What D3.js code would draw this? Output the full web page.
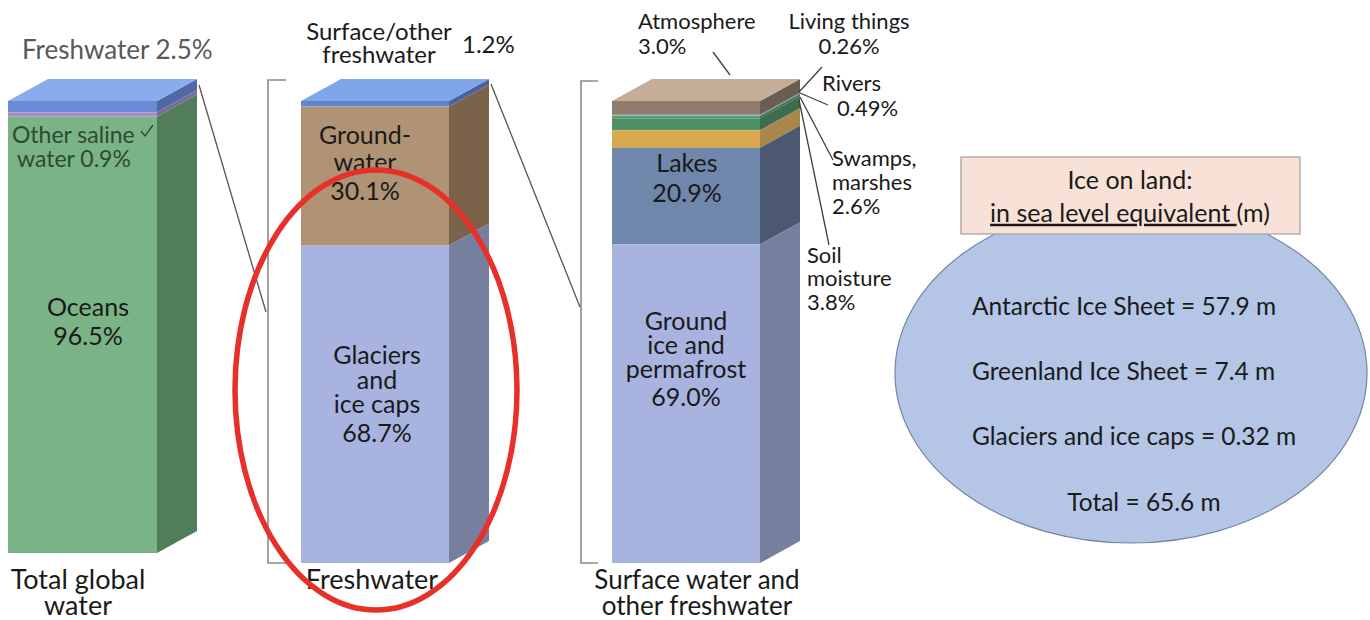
<!DOCTYPE html>
<html><head><meta charset="utf-8">
<script src="https://cdn.jsdelivr.net/npm/d3@7"></script>
<style>
body{margin:0;background:#fff;}
text{font-family:Lato,"Open Sans",sans-serif;}
</style>
</head><body>
<svg id="chart" width="1370" height="620"></svg>
<script>
// ---------- DATA ----------
const totalCategories = ["Freshwater", "Other saline water", "Oceans"];
const totalValues = [2.5, 0.9, 96.5];
const freshCategories = ["Surface/other freshwater", "Groundwater", "Glaciers and ice caps"];
const freshValues = [1.2, 30.1, 68.7];
const surfaceCategories = ["Atmosphere", "Living things", "Rivers", "Swamps, marshes", "Soil moisture", "Lakes", "Ground ice and permafrost"];
const surfaceValues = [3.0, 0.26, 0.49, 2.6, 3.8, 20.9, 69.0];
const barTitles = [["Total global", "water"], ["Freshwater"], ["Surface water and", "other freshwater"]];
const iceCategories = ["Antarctic Ice Sheet", "Greenland Ice Sheet", "Glaciers and ice caps", "Total"];
const iceValues = [57.9, 7.4, 0.32, 65.6];

// ---------- STYLE ----------
const totalColors = [
  {front:"#6a8bd5", side:"#4f68a8", top:"#8aaced"},
  {front:"#a98ac6", side:"#7e6a98"},
  {front:"#7ab386", side:"#527d5a"}
];
const freshColors = [
  {front:"#5f83cf", side:"#4a62a0", top:"#80a6ea"},
  {front:"#b09274", side:"#7a624b"},
  {front:"#a8b3e0", side:"#777f9f"}
];
const surfaceColors = [
  {front:"#8f7c6e", side:"#6c5d52", top:"#c4ae98"},
  {front:"#8cc6c0", side:"#6a9590"},
  {front:"#5a9a70", side:"#436f52"},
  {front:"#4f8f66", side:"#3d6c4e"},
  {front:"#d9a84e", side:"#a8884a"},
  {front:"#6f87aa", side:"#4b586f"},
  {front:"#a8b3e0", side:"#777f9f"}
];

const fmt = v => { let s = String(v); if (!s.includes(".")) s += ".0"; return s; };
const svg = d3.select("#chart");
const DX = 40, DY = -22;

function drawBar(cats, vals, colors, x0, w, yTop, yBot) {
  const y = d3.scaleLinear().domain([0, d3.sum(vals)]).range([yTop, yBot]);
  const cum = d3.cumsum(vals);
  const segs = cats.map((c, i) => ({c, i, v0: i ? cum[i-1] : 0, v1: cum[i]}));
  const g = svg.append("g");
  g.selectAll("path.side").data(segs).join("path")
    .attr("d", d => {
      const a = y(d.v0), b = y(d.v1);
      return `M${x0+w},${a}L${x0+w+DX},${a+DY}L${x0+w+DX},${b+DY}L${x0+w},${b}Z`;
    })
    .attr("fill", d => colors[d.i].side);
  g.selectAll("rect.front").data(segs).join("rect")
    .attr("x", x0).attr("width", w)
    .attr("y", d => y(d.v0)).attr("height", d => y(d.v1) - y(d.v0))
    .attr("fill", d => colors[d.i].front);
  const t = y(0);
  g.append("path")
    .attr("d", `M${x0},${t}L${x0+DX},${t+DY}L${x0+w+DX},${t+DY}L${x0+w},${t}Z`)
    .attr("fill", colors[0].top);
  return y;
}

// multi-line label as one text element with tspans
function lines(x, yCenters, strs, opts) {
  const o = Object.assign({size: 23, anchor: "middle", fill: "#1a1a1a", xs: null}, opts || {});
  const t = svg.append("text").attr("text-anchor", o.anchor)
    .attr("font-size", o.size).attr("fill", o.fill);
  strs.forEach((s, i) => {
    t.append("tspan").attr("x", o.xs ? o.xs[i] : x).attr("y", yCenters[i])
      .attr("dy", "0.35em").text(s);
  });
  return t;
}

function seg(pts, color, width) {
  svg.append("path").attr("d", d3.line()(pts)).attr("fill", "none")
    .attr("stroke", color || "#404040").attr("stroke-width", width || 1.3);
}

// ---------- BARS ----------
const y1 = drawBar(totalCategories, totalValues, totalColors, 8, 149, 101, 553);
const y2 = drawBar(freshCategories, freshValues, freshColors, 301, 148, 101, 563);
const y3 = drawBar(surfaceCategories, surfaceValues, surfaceColors, 612, 148, 101, 563);

// brackets and zoom lines
seg([[286, 80], [268, 80], [268, 563], [286, 563]], "#8a8a8a", 1.6);
seg([[598, 81], [581, 81], [581, 563], [598, 563]], "#8a8a8a", 1.6);
seg([[199, 85], [266, 312]], "#555", 1.3);
seg([[491, 84], [580, 307]], "#555", 1.3);

// ---------- BAR 1 LABELS ----------
lines(22, [50], [`${totalCategories[0]} ${fmt(totalValues[0])}%`], {anchor: "start", size: 26, fill: "#595959"});
lines(12, [135, 159], ["Other saline", `water ${fmt(totalValues[1])}%`], {anchor: "start", size: 23, fill: "#2e4a31", xs: [12, 17]});
seg([[141, 131], [145, 136], [153, 125]], "#2e4a31", 1.3);
lines(88, [307, 336], [totalCategories[2], fmt(totalValues[2]) + "%"], {size: 25});

// ---------- BAR 2 LABELS ----------
lines(379, [32, 55], ["Surface/other", "freshwater"], {size: 24});
lines(462, [45], [fmt(freshValues[0]) + "%"], {anchor: "start", size: 24});
lines(365, [135, 162, 191], ["Ground-", "water", fmt(freshValues[1]) + "%"], {size: 25});
lines(377, [355, 380, 404, 433], ["Glaciers", "and", "ice caps", fmt(freshValues[2]) + "%"], {size: 25});

// ---------- BAR 3 LABELS ----------
lines(638, [21, 46], [surfaceCategories[0], fmt(surfaceValues[0]) + "%"], {anchor: "start", size: 22});
seg([[713, 52], [730, 75]]);
lines(849, [21, 46], [surfaceCategories[1], fmt(surfaceValues[1]) + "%"], {size: 22});
seg([[822, 67], [799, 92]]);
lines(822, [83, 108], [surfaceCategories[2], fmt(surfaceValues[2]) + "%"], {anchor: "start", size: 22, xs: [822, 837]});
seg([[800, 93], [828, 105]]);
lines(832, [158, 182, 206], ["Swamps,", "marshes", fmt(surfaceValues[3]) + "%"], {anchor: "start", size: 22});
seg([[800, 97], [833, 160]]);
lines(807, [255, 278, 302], ["Soil", "moisture", fmt(surfaceValues[4]) + "%"], {anchor: "start", size: 22});
seg([[799, 100], [829, 245]]);
lines(687, [163, 193], [surfaceCategories[5], fmt(surfaceValues[5]) + "%"], {size: 25});
lines(686, [321, 345, 369, 397], ["Ground", "ice and", "permafrost", fmt(surfaceValues[6]) + "%"], {size: 25});

// ---------- BOTTOM TITLES ----------
lines(78, [580, 606], barTitles[0], {size: 27});
lines(372, [580], barTitles[1], {size: 27});
lines(697, [580, 606], barTitles[2], {size: 26});

// ---------- ICE ELLIPSE ----------
svg.append("ellipse").attr("cx", 1131).attr("cy", 373).attr("rx", 236).attr("ry", 170)
  .attr("fill", "#b4c5e6").attr("stroke", "#7385a6").attr("stroke-width", 1.2);
svg.append("rect").attr("x", 961).attr("y", 157).attr("width", 339).attr("height", 77)
  .attr("fill", "#f8e2d7").attr("stroke", "#a6a6a6").attr("stroke-width", 1.3);
const head = lines(1130, [180], ["Ice on land:"], {size: 25});
const sub = head.append("tspan").attr("x", 1130).attr("y", 213).attr("dy", "0.35em");
sub.append("tspan").attr("text-decoration", "underline").text("in sea level equivalent\u00a0");
sub.append("tspan").text("(m)");
lines(972, [306, 371, 436], iceCategories.slice(0, 3).map((c, i) => `${c} = ${iceValues[i]} m`), {anchor: "start", size: 24.5});
lines(1144, [502], [`${iceCategories[3]} = ${iceValues[3]} m`], {size: 24.5});

// ---------- RED HIGHLIGHT ----------
svg.append("ellipse").attr("cx", 376).attr("cy", 390).attr("rx", 141).attr("ry", 220)
  .attr("fill", "none").attr("stroke", "#e8302a").attr("stroke-width", 5.5);
</script>
</body></html>
